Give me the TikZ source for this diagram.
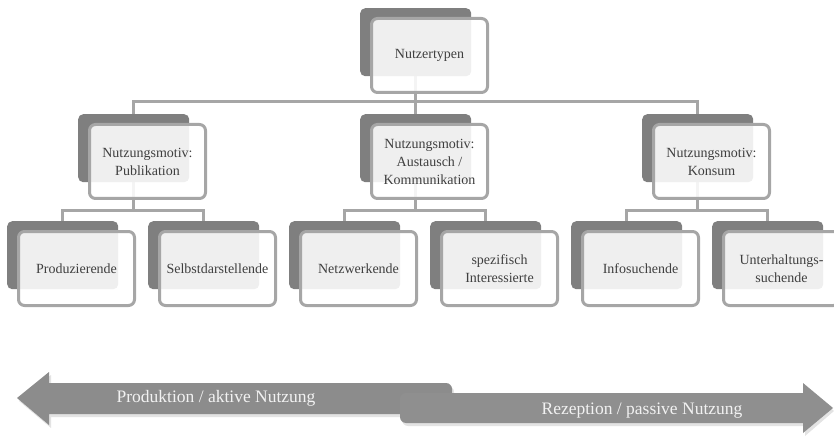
\documentclass[tikz,border=0pt]{standalone}
\usepackage{fontspec}
\setmainfont{Liberation Serif}
\usetikzlibrary{calc}
\pgfdeclarelayer{background}
\pgfsetlayers{background,main}
\definecolor{backgray}{HTML}{7F7F7F}
\definecolor{rimgray}{HTML}{A6A6A6}
\definecolor{linkgray}{HTML}{A6A6A6}
\definecolor{arrowgray}{HTML}{8C8C8C}
\definecolor{arrowgrayb}{HTML}{8F8F8F}
\definecolor{labelgray}{HTML}{3F3F3F}
\definecolor{shadegray}{HTML}{D0D0D0}

% one hierarchy entry: dark card behind, translucent framed card in front
\newcommand\typecard[4]{%
  \node[backcard] (#1d) at (#2,#3) {};
  \node[frontcard] (#1) at ({#2+10},{#3+9}) {#4};
}

\begin{document}
\begin{tikzpicture}[x=1pt,y=-1pt,
  backcard/.style={fill=backgray, rounded corners=5pt, anchor=north west,
    minimum width=111pt, minimum height=68pt, inner sep=0pt},
  frontcard/.style={fill=white, fill opacity=0.88, text opacity=1,
    draw=rimgray, draw opacity=1, line width=3pt, rounded corners=6pt,
    anchor=north west, minimum width=116pt, minimum height=74pt,
    inner sep=0pt, align=center, text=labelgray,
    font=\fontsize{14}{18}\selectfont},
  link/.style={draw=linkgray, line width=3pt},
  arrowtext/.style={text=white!95!black, font=\fontsize{17.5}{20}\selectfont, inner sep=0pt}
]
\useasboundingbox (0,0) rectangle (834,438);

% hierarchy
\typecard{top}{360}{8}{Nutzertypen}
\typecard{pub}{78}{114}{Nutzungsmotiv:\\Publikation}
\typecard{aust}{360}{114}{Nutzungsmotiv:\\Austausch /\\Kommunikation}
\typecard{kons}{642}{114}{Nutzungsmotiv:\\Konsum}
\typecard{prod}{7}{221}{Produzierende}
\typecard{selb}{148}{221}{Selbstdarstellende}
\typecard{netz}{289}{221}{Netzwerkende}
\typecard{spez}{430}{221}{spezifisch\\Interessierte}
\typecard{info}{571}{221}{Infosuchende}
\typecard{unt}{712}{221}{Unterhaltungs-\\suchende}

% connectors, behind the cards
\begin{pgfonlayer}{background}
  \coordinate (bus0) at (0,102);
  \coordinate (bus1) at (0,211);
  \draw[link] (topd.center) -- (austd.north);
  \draw[link] (pubd.north) -- (pubd.north |- bus0) -- (konsd.north |- bus0) -- (konsd.north);
  \foreach \p/\a/\b in {pub/prod/selb, aust/netz/spez, kons/info/unt}{
    \draw[link] (\p d.center) -- (\p d.center |- bus1);
    \draw[link] (\a d.north) -- (\a d.north |- bus1) -- (\b d.north |- bus1) -- (\b d.north);
  }
\end{pgfonlayer}

% opposing arrows with a soft drop shadow
\fill[shadegray, opacity=0.6] (19,401) -- (51,375) -- (51,386) -- (448,386)
  arc[start angle=90, end angle=0, radius=6pt] -- (454,411)
  arc[start angle=0, end angle=-90, radius=6pt] -- (51,417) -- (51,428) -- cycle;
\fill[arrowgray] (17,398) -- (49,372) -- (49,383) -- (446,383)
  arc[start angle=90, end angle=0, radius=6pt] -- (452,408)
  arc[start angle=0, end angle=-90, radius=6pt] -- (49,414) -- (49,425) -- cycle;
\fill[shadegray, opacity=0.6] (834,411) -- (805,386) -- (805,396) -- (408,396)
  arc[start angle=90, end angle=180, radius=6pt] -- (402,420)
  arc[start angle=180, end angle=270, radius=6pt] -- (805,426) -- (805,436) -- cycle;
\fill[arrowgrayb] (833,408) -- (803,383) -- (803,393) -- (406,393)
  arc[start angle=90, end angle=180, radius=6pt] -- (400,417)
  arc[start angle=180, end angle=270, radius=6pt] -- (803,423) -- (803,433) -- cycle;

\node[arrowtext] (prodlabel) at (216,398) {Produktion / aktive Nutzung};
\node[arrowtext] (rezlabel) at (642,411) {Rezeption / passive Nutzung};
\end{tikzpicture}
\end{document}
